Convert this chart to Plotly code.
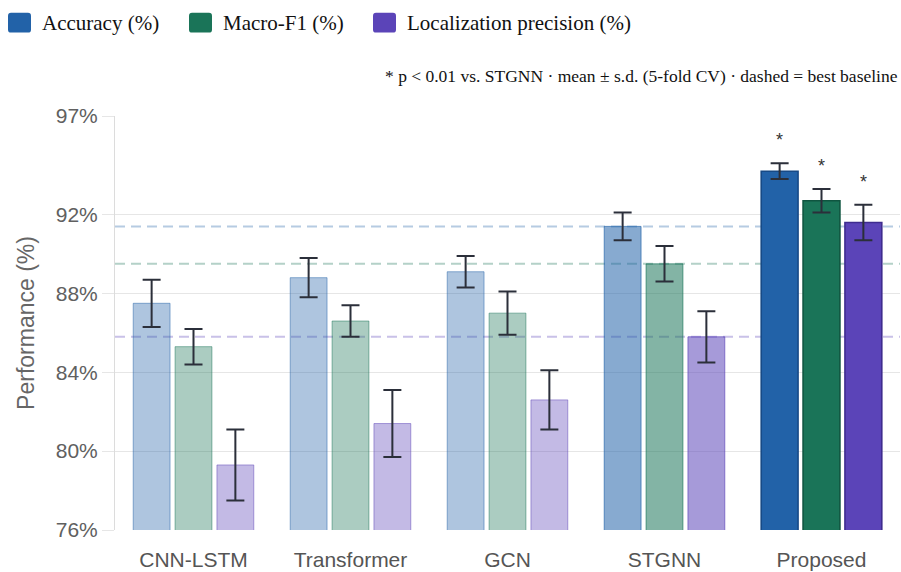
import plotly.graph_objects as go

# ---- data -------------------------------------------------------------
models = ["CNN-LSTM", "Transformer", "GCN", "STGNN", "Proposed"]
accuracy = [87.5, 88.8, 89.1, 91.4, 94.2]
accuracy_sd = [1.2, 1.0, 0.8, 0.7, 0.4]
macro_f1 = [85.3, 86.6, 87.0, 89.5, 92.7]
macro_f1_sd = [0.9, 0.8, 1.1, 0.9, 0.6]
loc_precision = [79.3, 81.4, 82.6, 85.8, 91.6]
loc_precision_sd = [1.8, 1.7, 1.5, 1.3, 0.9]
significant = [False, False, False, False, True]   # p < 0.01 vs. STGNN
y_ticks = [76, 80, 84, 88, 92, 97]
y_tick_labels = [f"{v}%" for v in y_ticks]

series = [
    ("Accuracy (%)", accuracy, accuracy_sd, (34, 98, 168), "#174a86"),
    ("Macro-F1 (%)", macro_f1, macro_f1_sd, (26, 116, 88), "#0f5540"),
    ("Localization precision (%)", loc_precision, loc_precision_sd, (91, 68, 184), "#3f2c8f"),
]

# ---- geometry (pixels) --------------------------------------------------
W, H = 901, 572
ML, MR, MT, MB = 115, 1, 116, 39
PW, PH = W - ML - MR, H - MT - MB
BARGAP = 0.2


def px_x(px):
    return (px - ML) / PW


def px_y(py):
    return (H - MB - py) / PH


def alpha_for(i):
    if i == len(models) - 1:
        return 1.0
    if i == len(models) - 2:
        return 0.54
    return 0.37


fig = go.Figure()
for name, vals, sds, rgb, edge in series:
    fills, lines, widths = [], [], []
    for i in range(len(models)):
        a = alpha_for(i)
        fills.append(f"rgba({rgb[0]},{rgb[1]},{rgb[2]},{a})")
        if a == 1.0:
            lines.append(edge)
            widths.append(1.6)
        else:
            lines.append(f"rgba({rgb[0]},{rgb[1]},{rgb[2]},{min(1, a + 0.12)})")
            widths.append(1)
    fig.add_trace(go.Bar(
        name=name, x=models, y=vals,
        marker=dict(color=fills, line=dict(color=lines, width=widths)),
        error_y=dict(type="data", array=sds, visible=True,
                     color="#2b2f3a", thickness=2, width=9),
        showlegend=False,
    ))

# dashed reference lines at the best baseline for each metric
shapes = []
for name, vals, sds, rgb, edge in series:
    best = max(vals[:-1])
    shapes.append(dict(
        type="line", xref="paper", yref="y", x0=0, x1=1, y0=best, y1=best,
        line=dict(color=f"rgba({rgb[0]},{rgb[1]},{rgb[2]},0.33)", width=2, dash="10px,6px"),
        layer="below",
    ))

# significance stars above the proposed model's bars
annotations = []
slot = (1 - BARGAP) / len(series)
for k, (name, vals, sds, rgb, edge) in enumerate(series):
    for i, sig in enumerate(significant):
        if sig:
            annotations.append(dict(
                x=i + (k - 1) * slot, y=vals[i] + sds[i], xref="x", yref="y",
                text="*", showarrow=False, yanchor="bottom", yshift=11,
                font=dict(family="Liberation Sans, Arial", size=18, color="#333333"),
            ))


# custom legend row with rounded swatches
def rounded_rect(x0, y0, x1, y1, r):
    rx, ry = r / PW, r / PH
    X0, X1 = px_x(x0), px_x(x1)
    Yt, Yb = px_y(y0), px_y(y1)
    return (f"M{X0 + rx},{Yt} L{X1 - rx},{Yt} Q{X1},{Yt} {X1},{Yt - ry} "
            f"L{X1},{Yb + ry} Q{X1},{Yb} {X1 - rx},{Yb} L{X0 + rx},{Yb} "
            f"Q{X0},{Yb} {X0},{Yb + ry} L{X0},{Yt - ry} Q{X0},{Yt} {X0 + rx},{Yt} Z")


legend_swatch_x = [8, 189, 373]
for (name, vals, sds, rgb, edge), sx in zip(series, legend_swatch_x):
    shapes.append(dict(
        type="path", xref="paper", yref="paper",
        path=rounded_rect(sx, 12, sx + 23, 32, 3),
        fillcolor=f"rgb({rgb[0]},{rgb[1]},{rgb[2]})", line=dict(width=0),
    ))
    annotations.append(dict(
        x=px_x(sx + 32), y=px_y(22), xref="paper", yref="paper",
        text=name, showarrow=False, xanchor="left", yanchor="middle",
        font=dict(family="Liberation Serif, Times New Roman", size=21, color="#111111"),
    ))

annotations.append(dict(
    x=px_x(900), y=px_y(76), xref="paper", yref="paper",
    text="* p < 0.01 vs. STGNN · mean ± s.d. (5-fold CV) · dashed = best baseline",
    showarrow=False, xanchor="right", yanchor="middle",
    font=dict(family="Liberation Serif, Times New Roman", size=17.5, color="#111111"),
))

fig.update_layout(
    width=W, height=H,
    margin=dict(l=ML, r=MR, t=MT, b=MB, pad=0),
    paper_bgcolor="white", plot_bgcolor="white",
    barmode="group", bargap=BARGAP, bargroupgap=0.12,
    shapes=shapes, annotations=annotations,
    font=dict(family="Liberation Sans, Arial", color="#555555"),
)
fig.update_xaxes(
    showgrid=False, showline=False, ticks="",
    tickfont=dict(size=21, color="#555555"), ticklabelstandoff=15,
)
fig.update_yaxes(
    range=[76, 97], tickmode="array", tickvals=y_ticks, ticktext=y_tick_labels,
    showgrid=True, gridcolor="#e6e6e6", gridwidth=1,
    showline=True, linecolor="#dcdcdc", linewidth=1,
    ticks="outside", ticklen=12, tickcolor="#e6e6e6",
    zeroline=False, tickfont=dict(size=21, color="#606060"),
    title=dict(text="Performance (%)", font=dict(size=23, color="#666666"), standoff=14),
)

fig.write_html("out.html")
